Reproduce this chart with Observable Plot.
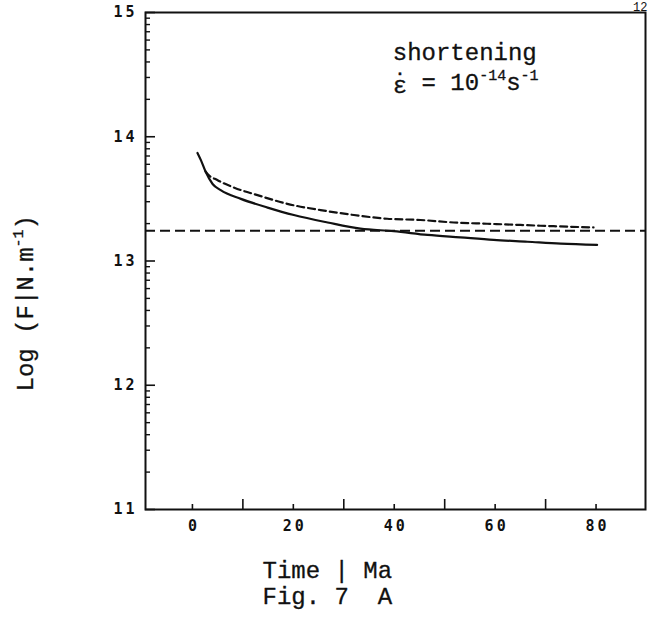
<!DOCTYPE html>
<html>
<head>
<meta charset="utf-8">
<script src="https://cdn.jsdelivr.net/npm/d3@7"></script>
<script src="https://cdn.jsdelivr.net/npm/@observablehq/plot@0.6"></script>
<style>
  html, body { margin: 0; padding: 0; background: #fff; }
  g[aria-label$="tick label"], g[aria-label$="tick label"] text {
    font-size: 15px !important;
    font-family: "DejaVu Sans Mono", monospace !important;
    font-weight: bold;
    letter-spacing: 3px;
  }
</style>
</head>
<body>
<div id="chart"></div>
<script>
// ---- data ----
const solidTime = [1.0, 1.7, 2.6, 4.0, 5.6, 9.6, 14.9, 20.1, 26.8, 33.3, 39.9, 46.6, 53.1, 59.7, 66.4, 73.0, 80.2];
const solidLogF = [13.87, 13.81, 13.72, 13.62, 13.57, 13.50, 13.43, 13.37, 13.31, 13.26, 13.24, 13.21, 13.19, 13.17, 13.155, 13.14, 13.13];
const dashedTime = [2.6, 3.0, 5.0, 8.3, 12.9, 18.8, 25.4, 32.0, 38.6, 45.2, 51.8, 58.4, 65.0, 71.6, 79.5];
const dashedLogF = [13.72, 13.70, 13.65, 13.59, 13.53, 13.46, 13.41, 13.37, 13.34, 13.33, 13.31, 13.30, 13.29, 13.28, 13.27];
const referenceLogF = 13.243;

const xTicksLabeled = [0, 20, 40, 60, 80];
const xTicksLong = [10, 30, 50, 70];
const yTicksMajor = [11, 12, 13, 14, 15];
const yMinorMultipliers = [2, 3, 4, 5, 6, 7, 8, 9];

const annotationLine1 = "shortening";
const annotationLine2 = "\u03B5\u0307 = 10\u207B\u00B9\u2074s\u207B\u00B9";
const xLabel = "Time | Ma";
const yLabel = "Log (F|N.m\u207B\u00B9)";
const caption = "Fig. 7  A";
const pageNumber = "12";

// ---- build tables ----
const solid = solidTime.map((t, i) => ({t, v: solidLogF[i]}));
const dashed = dashedTime.map((t, i) => ({t, v: dashedLogF[i]}));
const yMinor = yTicksMajor.slice(0, -1).flatMap(k => yMinorMultipliers.map(n => k + Math.log10(n)));

const ink = "#111";
const tickFont = {fontFamily: "DejaVu Sans Mono, monospace", fontSize: 15, fontWeight: "bold"};
const textFont = {fontFamily: "Liberation Mono, monospace", fontSize: 24, stroke: ink, strokeWidth: 0.3};

const chart = Plot.plot({
  width: 649,
  height: 633,
  marginLeft: 145,
  marginRight: 4,
  marginTop: 12,
  marginBottom: 124,
  x: {domain: [-9.3, 89.8]},
  y: {domain: [11, 15]},
  style: {background: "#fff", color: ink, fontFamily: "Liberation Mono, monospace"},
  marks: [
    Plot.ruleY([referenceLogF], {stroke: ink, strokeWidth: 2, strokeDasharray: "10,5"}),
    Plot.line(dashed, {x: "t", y: "v", stroke: ink, strokeWidth: 2.2, strokeDasharray: "7,4", curve: "monotone-x"}),
    Plot.line(solid, {x: "t", y: "v", stroke: ink, strokeWidth: 2.2, curve: "monotone-x"}),
    Plot.frame({stroke: ink, strokeWidth: 2}),
    // y axis: inward major + minor (log) ticks, labels
    Plot.axisY(yTicksMajor, {anchor: "left", tickSize: -10, fill: "none", stroke: ink, strokeWidth: 1.6, label: null}),
    Plot.axisY(yMinor, {anchor: "left", tickSize: -5, fill: "none", stroke: ink, strokeWidth: 1.4, label: null}),
    Plot.axisY(yTicksMajor, {anchor: "left", tickSize: 0, tickPadding: 8, tickFormat: d => String(d), fill: ink, label: null, ...tickFont}),
    // x axis: inward ticks, labels
    Plot.axisX(xTicksLabeled, {anchor: "bottom", tickSize: -5, fill: "none", stroke: ink, strokeWidth: 1.6, label: null}),
    Plot.axisX(xTicksLong, {anchor: "bottom", tickSize: -10, fill: "none", stroke: ink, strokeWidth: 1.6, label: null}),
    Plot.axisX(xTicksLabeled, {anchor: "bottom", tickSize: 0, tickPadding: 11, dx: 1.5, tickFormat: d => String(d), fill: ink, label: null, ...tickFont}),
    // annotation
    Plot.text([annotationLine1], {x: 39.7, y: 14.62, text: d => d, textAnchor: "start", lineAnchor: "bottom", fill: ink, ...textFont}),
    Plot.text([annotationLine2], {x: 39.7, y: 14.35, text: d => d, textAnchor: "start", lineAnchor: "bottom", fill: ink, ...textFont}),
    // axis titles and caption
    Plot.text([yLabel], {frameAnchor: "left", y: 12.66, dx: -120, rotate: -90, text: d => d, textAnchor: "middle", lineAnchor: "middle", fill: ink, ...textFont}),
    Plot.text([xLabel], {frameAnchor: "bottom", x: 13.9, dy: 68, text: d => d, textAnchor: "start", lineAnchor: "bottom", fill: ink, ...textFont}),
    Plot.text([caption], {frameAnchor: "bottom", x: 13.9, dy: 94, text: d => d, textAnchor: "start", lineAnchor: "bottom", fill: ink, ...textFont}),
    Plot.text([pageNumber], {frameAnchor: "top-right", dx: 2, dy: -2, text: d => d, textAnchor: "end", lineAnchor: "bottom", fill: ink, fontFamily: "Liberation Mono, monospace", fontSize: 12})
  ]
});

// superscript characters -> raised smaller tspans; epsilon with a dot placed above it
const supChars = {"\u207B": "-", "\u00B9": "1", "\u00B2": "2", "\u00B3": "3", "\u2074": "4", "\u2070": "0"};
const supRe = /([\u207B\u00B9\u00B2\u00B3\u2074\u2070]+|\u03B5\u0307)/;
d3.select(chart).selectAll("text").each(function () {
  const s = this.textContent;
  if (!supRe.test(s)) return;
  const parts = s.split(supRe).filter(p => p);
  this.textContent = "";
  let raised = false;
  const el = d3.select(this);
  for (const p of parts) {
    if (p === "\u03B5\u0307") {
      const e = el.append("tspan").text("\u03B5");
      if (raised) { e.attr("dy", 10); raised = false; }
      el.append("tspan").text("\u02D9").attr("dx", -14.4).attr("dy", -3);
      el.append("tspan").text("").attr("dy", 3);
    } else if (/^[\u207B\u00B9\u00B2\u00B3\u2074\u2070]+$/.test(p)) {
      const ts = el.append("tspan").text([...p].map(c => supChars[c]).join("")).attr("font-size", 15);
      if (!raised) { ts.attr("dy", -10); raised = true; }
    } else {
      const ts = el.append("tspan").text(p);
      if (raised) { ts.attr("dy", 10); raised = false; }
    }
  }
});

document.getElementById("chart").appendChild(chart);
</script>
</body>
</html>
